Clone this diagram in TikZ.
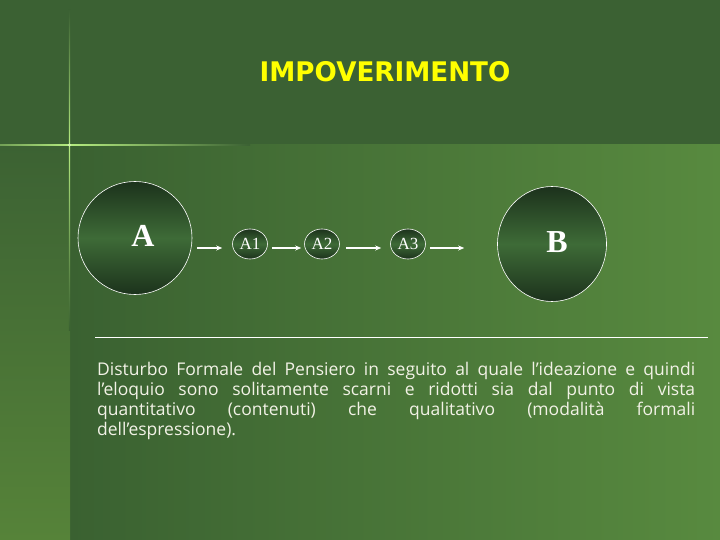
\documentclass[tikz,border=0pt]{standalone}
\usepackage{fontspec}
\usepackage{graphicx}
\setmainfont{Liberation Serif}
\newfontfamily\titlefont{DejaVu Sans}
\newfontfamily\bodyfont[Ligatures=NoCommon]{Open Sans}
\usetikzlibrary{arrows.meta,shapes.geometric}

\definecolor{topbg}{HTML}{3B6133}
\definecolor{mainleft}{HTML}{3A6131}
\definecolor{mainright}{HTML}{588A3F}
\definecolor{striptop}{HTML}{3C6233}
\definecolor{stripbot}{HTML}{568339}
\definecolor{glow}{HTML}{B5EC80}
\definecolor{ringdark}{HTML}{1C321C}
\definecolor{ringmid}{HTML}{3E6B37}
\definecolor{titleyellow}{HTML}{FFFF00}
\definecolor{bodycream}{HTML}{F2F2E6}

\begin{document}
\begin{tikzpicture}[x=1pt,y=-1pt,
  bigcirc/.style={ellipse,draw=white,line width=0.6pt,inner sep=0pt,
    top color=ringdark,bottom color=ringdark,middle color=ringmid},
  smallcirc/.style={bigcirc,minimum width=35pt,minimum height=30pt,
    text=white,font=\fontsize{17}{17}\selectfont},
  biglabel/.style={text=white,font=\bfseries\fontsize{32}{32}\selectfont},
  flow/.style={-{Stealth[length=6pt,width=5pt]},white,line width=1.5pt}]

\useasboundingbox (0,0) rectangle (720,540);

% Background panels
\fill[topbg] (0,0) rectangle (720,145);
\shade[left color=mainleft,right color=mainright] (70,145) rectangle (720,540);
\shade[top color=striptop,bottom color=stripbot] (0,145) rectangle (70,540);

% Light cross lines
\shade[top color=topbg,bottom color=glow] (68.8,10) rectangle (70.2,145);
\shade[top color=glow,bottom color=mainleft] (68.8,145) rectangle (70.2,330);
\shade[left color=glow!45!topbg,right color=glow] (0,144.3) rectangle (70,145.7);
\shade[left color=glow,right color=topbg] (70,144.3) rectangle (250,145.7);
\fill[glow!60!white] (69.5,145) circle (1.6);

% Title
\node[text=titleyellow,font=\titlefont\bfseries\fontsize{27}{27}\selectfont]
  (title) at (385,72) {\scalebox{0.97}[1]{IMPOVERIMENTO}};

% Chain of states
\node[bigcirc,minimum width=114pt,minimum height=113pt,
  label={[biglabel,xshift=8pt,yshift=2pt]center:A}] (A) at (135,238) {};
\node[smallcirc] (A1) at (250,244) {A1};
\node[smallcirc] (A2) at (322,244) {A2};
\node[smallcirc] (A3) at (408,244) {A3};
\node[bigcirc,minimum width=109pt,minimum height=115pt,
  label={[biglabel,xshift=5pt,yshift=2pt]center:B}] (B) at (552,244) {};

% Arrows
\draw[flow,shorten <=5pt,shorten >=10pt] ([yshift=-10pt]A.east) -- ([yshift=-4pt]A1.west);
\draw[flow,shorten <=4pt,shorten >=3pt] ([yshift=-4pt]A1.east) -- ([yshift=-4pt]A2.west);
\draw[flow,shorten <=6pt,shorten >=9pt] ([yshift=-4pt]A2.east) -- ([yshift=-4pt]A3.west);
\draw[flow,shorten <=4pt,shorten >=33pt] ([yshift=-4pt]A3.east) -- ([yshift=-4pt]B.west);

% Rule and description
\draw[white,line width=0.8pt] (95,337) -- (708,337);
\node[anchor=north west,inner sep=0pt,text width=598pt,align=justify,
  text=bodycream,font=\bodyfont\fontsize{17.5}{20}\selectfont] (desc) at (97,362)
  {Disturbo Formale del Pensiero in seguito al quale l’ideazione e quindi\linebreak
   l’eloquio sono solitamente scarni e ridotti sia dal punto di vista\linebreak
   quantitativo (contenuti) che qualitativo (modalità formali\linebreak
   dell’espressione).};

\end{tikzpicture}
\end{document}
